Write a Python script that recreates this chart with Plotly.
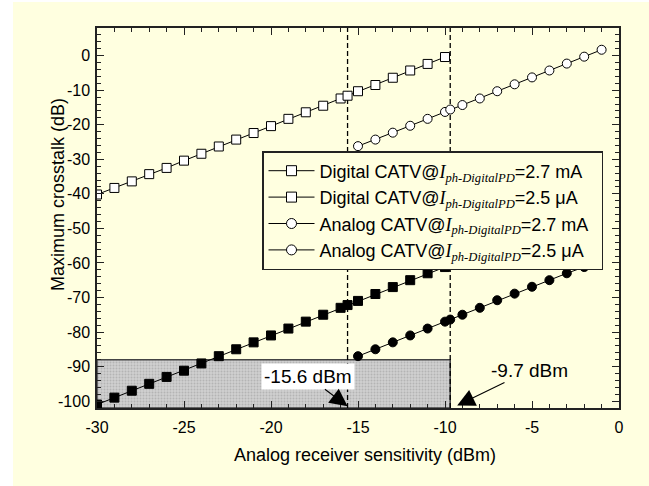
import plotly.graph_objects as go

# ---- data ----
digital_hi_x = [-30, -29, -28, -27, -26, -25, -24, -23, -22, -21, -20, -19, -18, -17, -16, -15.6,
                -15, -14, -13, -12, -11, -10]
digital_hi_y = [-40.2, -38.3, -36.4, -34.3, -32.5, -30.4, -28.4, -26.3, -24.3, -22.4, -20.4, -18.3,
                -16.4, -14.5, -12.4, -11.6, -10.3, -8.5, -6.4, -4.3, -2.4, -0.4]
digital_lo_x = digital_hi_x
digital_lo_y = [-101, -99, -97, -95, -93, -91.2, -89.1, -87, -85, -83, -81, -79, -77, -75, -73,
                -72.2, -71, -69, -67, -65, -63, -61.2]
analog_hi_x = [-15, -14, -13, -12, -11, -10, -9.7, -9, -8, -7, -6, -5, -4, -3, -2, -1]
analog_hi_y = [-26.2, -24.3, -22.3, -20.3, -18.3, -16.3, -15.6, -14.3, -12.4, -10.3, -8.3, -6.3,
               -4.3, -2.3, -0.3, 1.7]
analog_lo_x = [-15, -14, -13, -12, -11, -10, -9.7, -9, -8, -7, -6, -5, -4, -3, -2]
analog_lo_y = [-87, -85, -83, -81, -79, -77, -76.4, -75, -73, -70.8, -68.9, -66.9, -65, -63, -61.2]

sens_lines = [-15.6, -9.7]
shade_x = [-30, -9.7]
shade_y = [-102, -88]

x_ticks = [-30, -25, -20, -15, -10, -5, 0]
x_ticktext = ["-30", "-25", "-20", "-15", "-10", "-5", "0"]
y_ticks = [0, -10, -20, -30, -40, -50, -60, -70, -80, -90, -100]
y_ticktext = ["0", "-10", "-20", "-30", "-40", "-50", "-60", "-70", "-80", "-90", "-100"]

SUB = "<span style=\"font-family:Liberation Serif\"><i>I</i><sub><i>ph-DigitalPD</i></sub></span>"
PAD = "<span style=\"fill:rgba(0,0,0,0)\">ii</span>"
legend_names = [
    "Digital CATV@" + SUB + "=2.7 mA" + PAD,
    "Digital CATV@" + SUB + "=2.5 μA" + PAD,
    "Analog CATV@" + SUB + "=2.7 mA" + PAD,
    "Analog CATV@" + SUB + "=2.5 μA" + PAD,
]

BG = "#FFFFE0"
FONT = "Arial, Liberation Sans, sans-serif"

fig = go.Figure()

# shaded region
fig.add_trace(go.Scatter(
    x=[shade_x[0], shade_x[1], shade_x[1], shade_x[0], shade_x[0]],
    y=[shade_y[0], shade_y[0], shade_y[1], shade_y[1], shade_y[0]],
    mode="lines", fill="toself", fillcolor="#c4c4c4",
    fillpattern=dict(shape=".", bgcolor="#cfcfcf", fgcolor="#9a9a9a", size=3, solidity=0.35),
    line=dict(color="#444444", width=1.5), showlegend=False, hoverinfo="skip"))

# dashed vertical lines
for v in sens_lines:
    fig.add_trace(go.Scatter(x=[v, v], y=[-102, 8], mode="lines",
                             line=dict(color="black", width=1.3, dash="5px,3px"),
                             showlegend=False, hoverinfo="skip"))

series = [
    (digital_hi_x, digital_hi_y, "square", "white"),
    (digital_lo_x, digital_lo_y, "square", "black"),
    (analog_hi_x, analog_hi_y, "circle", "white"),
    (analog_lo_x, analog_lo_y, "circle", "black"),
]
for xs, ys, sym, fc in series:
    fig.add_trace(go.Scatter(x=xs, y=ys, mode="lines+markers",
                             line=dict(color="black", width=1),
                             marker=dict(symbol=sym, size=9, color=fc,
                                         line=dict(color="black", width=1)),
                             showlegend=False))

# legend entries (open markers as in the reference)
for name, sym in zip(legend_names, ["square", "square", "circle", "circle"]):
    fig.add_trace(go.Scatter(x=[None], y=[None], mode="lines+markers", name=name,
                             line=dict(color="black", width=1),
                             marker=dict(symbol=sym, size=10, color="white",
                                         line=dict(color="black", width=1))))

W, H = 649, 486
L, R, T, B = 97, 30, 28, 78
pw, ph = W - L - R, H - T - B


def px(xp):
    return (xp - L) / pw


def py(yp):
    return (H - B - yp) / ph


axis_common = dict(showgrid=False, zeroline=False, showline=True, linecolor="#222222",
                   linewidth=1.5, mirror="allticks", ticks="inside", ticklen=7,
                   tickwidth=1.2, tickcolor="#222222",
                   tickfont=dict(family=FONT, size=16, color="black"))

fig.update_layout(
    width=W, height=H,
    margin=dict(l=L, r=R, t=T, b=B),
    paper_bgcolor=BG, plot_bgcolor=BG,
    font=dict(family=FONT, color="black"),
    xaxis=dict(range=[-30, 0], tickvals=x_ticks, ticktext=x_ticktext,
               minor=dict(dtick=1, ticks="inside", ticklen=4, tickcolor="#222222", tickwidth=1.2),
               ticklabelstandoff=4, **axis_common),
    yaxis=dict(range=[-102, 8], tickvals=y_ticks, ticktext=y_ticktext,
               minor=dict(dtick=2, ticks="inside", ticklen=4, tickcolor="#222222", tickwidth=1.2),
               ticklabelstandoff=2, **axis_common),
    legend=dict(x=px(262), y=py(151), xanchor="left", yanchor="top",
                bgcolor=BG, bordercolor="#222222", borderwidth=1.5,
                font=dict(family=FONT, size=18, color="black"),
                itemwidth=46, tracegroupgap=0),
    showlegend=True,
)

# white margins at left and top
fig.add_shape(type="rect", xref="paper", yref="paper", x0=px(-5), x1=px(13), y0=py(500), y1=py(-5),
              fillcolor="white", line=dict(width=0), layer="below")
fig.add_shape(type="rect", xref="paper", yref="paper", x0=px(-5), x1=px(660), y0=py(2), y1=py(-5),
              fillcolor="white", line=dict(width=0), layer="below")

# axis titles
fig.add_annotation(x=px(365), y=py(467), xref="paper", yref="paper", showarrow=False,
                   text="Analog receiver sensitivity (dBm)",
                   font=dict(family=FONT, size=18, color="black"))
fig.add_annotation(x=px(46), y=py(195), xref="paper", yref="paper", showarrow=False,
                   text="Maximum crosstalk (dB)", textangle=-90,
                   font=dict(family=FONT, size=18, color="black"))

# annotations
fig.add_annotation(x=-15.6, y=-101.5, xref="x", yref="y", text="-15.6 dBm",
                   showarrow=True, arrowhead=2, arrowsize=3.2, arrowwidth=1.1, arrowcolor="black",
                   ax=-40, ay=-30, bgcolor="white", borderpad=2,
                   font=dict(family=FONT, size=19, color="black"))
fig.add_annotation(x=-9.3, y=-101.3, xref="x", yref="y", text="-9.7 dBm",
                   showarrow=True, arrowhead=2, arrowsize=3.2, arrowwidth=1.1, arrowcolor="black",
                   ax=72, ay=-35, font=dict(family=FONT, size=19, color="black"))

fig.write_html("out.html")
